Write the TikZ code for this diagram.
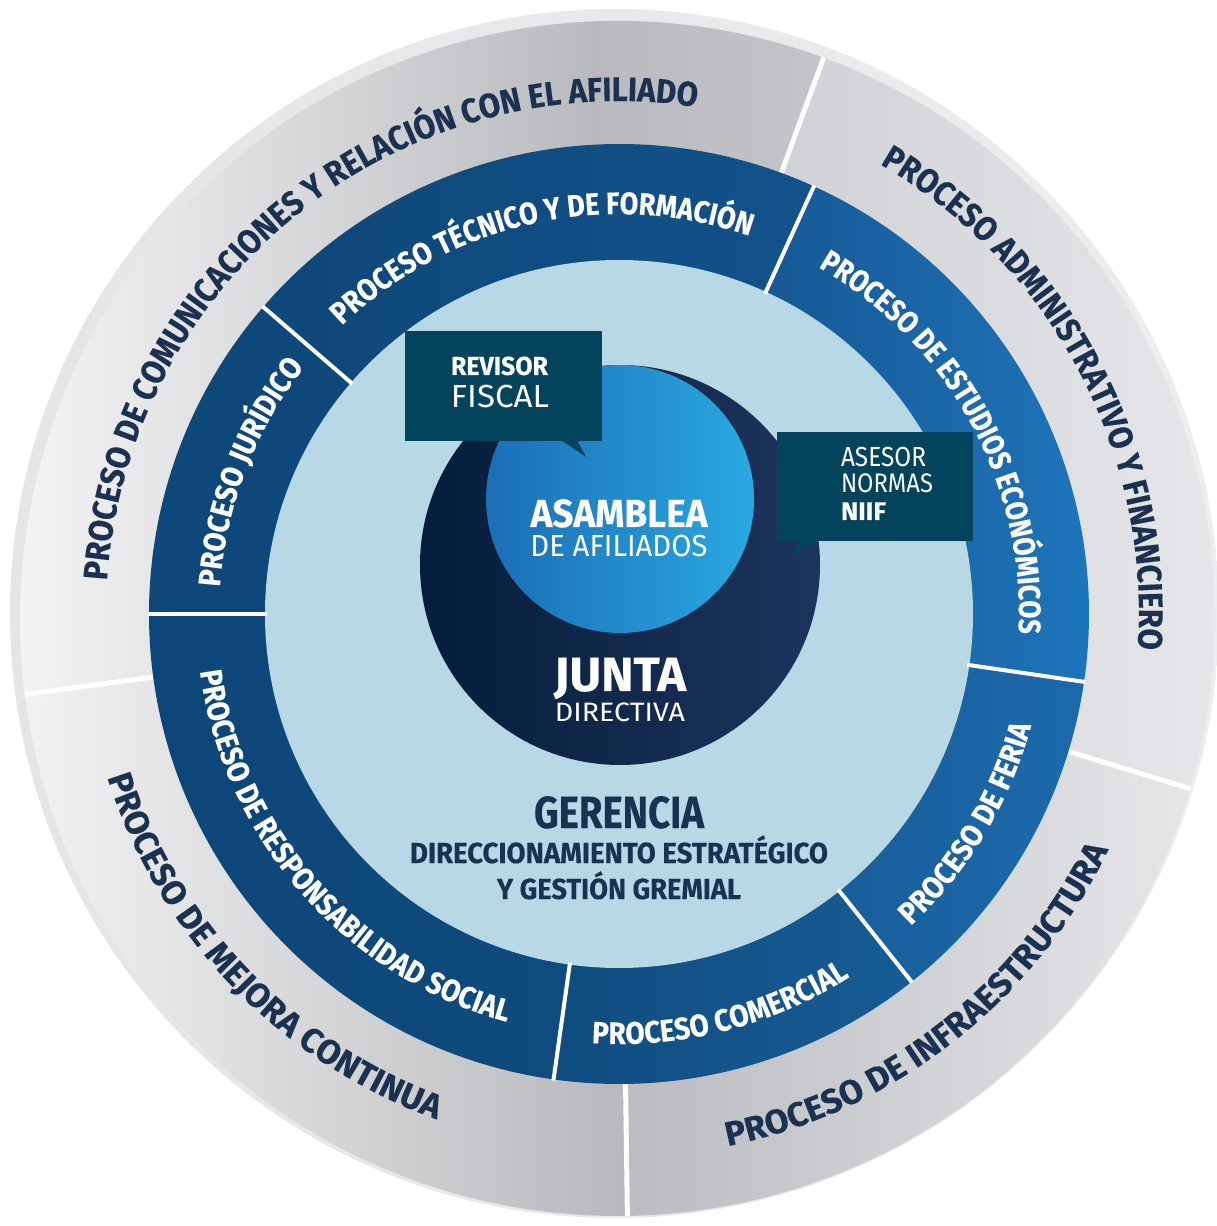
\documentclass[tikz,border=0pt]{standalone}
\usepackage{fontspec}
\usepackage{graphicx}
\usetikzlibrary{decorations.text}
\newfontfamily\cf{Fira Sans}
\newfontfamily\cfb{Fira Sans}[FakeBold=0.3]
\newlength\mylen
\newcommand\mkstretch[4]{%
  \settowidth\mylen{\fontsize{#2}{#2}\cf\bfseries #4}%
  \edef\tmpst{\fpeval{round(#3/\mylen,4)}}%
  \edef\tmpx{\noexpand\newfontfamily\expandafter\noexpand\csname #1\endcsname{Fira Sans}[FakeStretch=\tmpst,FakeBold=0.3]}%
  \tmpx}
\mkstretch{fComm}{34}{847}{PROCESO DE COMUNICACIONES Y RELACIÓN CON EL AFILIADO}
\mkstretch{fAdm}{34}{575}{PROCESO ADMINISTRATIVO Y FINANCIERO}
\mkstretch{fInf}{34}{497}{PROCESO DE INFRAESTRUCTURA}
\mkstretch{fMej}{34}{489}{PROCESO DE MEJORA CONTINUA}
\mkstretch{fTec}{31}{437}{PROCESO TÉCNICO Y DE FORMACIÓN}
\mkstretch{fJur}{31}{238}{PROCESO JURÍDICO}
\mkstretch{fRes}{31}{492}{PROCESO DE RESPONSABILIDAD SOCIAL}
\mkstretch{fCom}{31}{269}{PROCESO COMERCIAL}
\mkstretch{fFer}{31}{236}{PROCESO DE FERIA}
\mkstretch{fEst}{31}{436}{PROCESO DE ESTUDIOS ECONÓMICOS}

\definecolor{navytext}{HTML}{1B3152}
\definecolor{lightb}{HTML}{B8D8E5}
\definecolor{teal1}{HTML}{03445C}
\definecolor{navL}{HTML}{051D3A}
\definecolor{navR}{HTML}{1E345D}
\definecolor{asL}{HTML}{1C6DB4}
\definecolor{asM}{HTML}{1F7CC3}
\definecolor{asR}{HTML}{29A9E1}
\definecolor{rimL}{HTML}{E4E5E7}
\definecolor{rimM}{HTML}{C6C7CA}
\definecolor{rimR}{HTML}{EDEDEE}
\definecolor{comL}{HTML}{F4F4F5}
\definecolor{comA}{HTML}{D4D5D7}
\definecolor{comD}{HTML}{B9BABD}
\definecolor{comR}{HTML}{C4C5C8}
\definecolor{admL}{HTML}{D0D1D4}
\definecolor{admR}{HTML}{E9EAEC}
\definecolor{infL}{HTML}{BBBCBF}
\definecolor{infR}{HTML}{E5E6E8}
\definecolor{mejL}{HTML}{F2F2F3}
\definecolor{mejR}{HTML}{B8B9BC}
\pgfdeclarehorizontalshading{commsh}{100bp}{color(0bp)=(comL); color(25bp)=(comL); color(45bp)=(comA); color(61bp)=(comD); color(75bp)=(comR); color(100bp)=(comR)}

\tikzset{
  divider/.style={white, line width=#1},
  flat/.style={anchor=base, inner sep=0pt, outer sep=0pt},
  callout/.style={fill=teal1},
}
\newcommand\wtxt[3]{\resizebox{#1pt}{\height}{\fontsize{#2}{#2}\selectfont #3}}
% annular sector of the blue ring: start, end, left colour, right colour (HTML)
\newcommand\bseg[4]{\definecolor{bsL}{HTML}{#3}\definecolor{bsR}{HTML}{#4}%
  \shade[left color=bsL, right color=bsR]
  (#1:470) arc[start angle=#1,end angle=#2,radius=470] -- (#2:353) arc[start angle=#2,end angle=#1,radius=353] -- cycle;}

\begin{document}
\begin{tikzpicture}[x=1pt,y=1pt]
\fill[white] (-619,-612) rectangle (598,614);
\useasboundingbox (-619,-612) rectangle (598,614);

% outer rim
\shade[left color=rimL, middle color=rimM, right color=rimR] (-4.5,0.5) circle[radius=604.5];

% grey segments
\begin{scope}[shift={(-1.5,-4.5)}]
 \shade[shading=commsh]
   (69.8:597.5) arc[start angle=69.8,end angle=187.7,radius=597.5] -- (187.7:455) arc[start angle=187.7,end angle=69.8,radius=455] -- cycle;
 \shade[left color=mejL, right color=mejR]
   (187.7:597.5) arc[start angle=187.7,end angle=270.8,radius=597.5] -- (270.8:455) arc[start angle=270.8,end angle=187.7,radius=455] -- cycle;
 \shade[left color=infL, right color=infR]
   (-89.2:597.5) arc[start angle=-89.2,end angle=-17,radius=597.5] -- (-17:455) arc[start angle=-17,end angle=-89.2,radius=455] -- cycle;
 \shade[left color=admL, right color=admR]
   (-17:597.5) arc[start angle=-17,end angle=69.8,radius=597.5] -- (69.8:455) arc[start angle=69.8,end angle=-17,radius=455] -- cycle;
\end{scope}
\begin{scope}
 \clip (-1.5,-4.5) circle[radius=597.5];
 \foreach \a in {69.8,187.7,-89.2,-17} \draw[divider=5] (\a:468) -- (\a:612);
\end{scope}

% blue ring, one sector per process
\bseg{65.5}{139.2}{0E4779}{12528A}
\bseg{139.2}{180}{0E4779}{0E4779}
\bseg{180}{262}{0D4678}{0F4B7E}
\bseg{262}{308.5}{0F4C7F}{175C95}
\bseg{308.5}{351.7}{185E9A}{1C6AAB}
\bseg{-8.3}{65.5}{165893}{1F77BE}
\fill[lightb] (0,0) circle[radius=354];
\foreach \a in {139.2,180,-98,-51.5,-8.3,65.5} \draw[divider=4] (\a:352) -- (\a:471);

% central circles
\shade[left color=navL, right color=navR] (1,49) circle[radius=200];
\shade[left color=asL, middle color=asM, right color=asR] (1,115) circle[radius=134];

% callouts
\fill[callout] (-214,283) rectangle (-17,173);
\fill[callout] (-58,174) -- (-42,174) -- (-33,157) -- cycle;
\fill[callout] (158,182) rectangle (354,73);
\fill[callout] (181,74) -- (199,74) -- (173,56) -- cycle;

% callout texts
\node[flat, anchor=base west, text=white] (rev) at (-168,239) {\wtxt{97}{26.1}{\cfb\bfseries REVISOR}};
\node[flat, anchor=base west, text=white] (fis) at (-168,206) {\wtxt{98}{31.9}{\cf FISCAL}};
\node[flat, anchor=base west, text=white] (ase) at (222,147) {\wtxt{85}{27.6}{\cf ASESOR}};
\node[flat, anchor=base west, text=white] (nor) at (222,121) {\wtxt{92}{26.8}{\cf NORMAS}};
\node[flat, anchor=base west, text=white] (nii) at (222,94) {\wtxt{45}{25.4}{\cfb\bfseries NIIF}};

% center texts
\node[flat, text=white] (asa) at (0,87) {\wtxt{177}{39.2}{\cfb\bfseries ASAMBLEA}};
\node[flat, text=white] (afi) at (0,57) {\wtxt{177}{30.5}{\cf DE AFILIADOS}};
\node[flat, text=white] (jun) at (1,-77) {\wtxt{132}{47.9}{\cfb\bfseries JUNTA}};
\node[flat, text=white] (dir) at (1,-107) {\wtxt{130}{26.6}{\cf DIRECTIVA}};
\node[flat, text=navytext] (ger) at (0,-214) {\wtxt{170}{45}{\cfb\bfseries GERENCIA}};
\node[flat, text=navytext] (dcc) at (0,-249) {\wtxt{418}{29}{\cfb\bfseries DIRECCIONAMIENTO ESTRATÉGICO}};
\node[flat, text=navytext] (gre) at (0,-285) {\wtxt{244}{29}{\cfb\bfseries Y GESTIÓN GREMIAL}};

% outer ring curved texts
\path[decorate, decoration={text along path, text align=center, text color=navytext,
  text={|\fontsize{34}{34}\fComm\bfseries|PROCESO DE COMUNICACIONES Y RELACIÓN CON EL AFILIADO}}]
  (198.8:513) arc[start angle=198.8, end angle=58.8, radius=513];
\path[decorate, decoration={text along path, text align=center, text color=navytext,
  text={|\fontsize{34}{34}\fAdm\bfseries|PROCESO ADMINISTRATIVO Y FINANCIERO}}]
  (78:520) arc[start angle=78, end angle=-22, radius=520];
\path[decorate, decoration={text along path, text align=center, text color=navytext,
  text={|\fontsize{34}{34}\fInf\bfseries|PROCESO DE INFRAESTRUCTURA}}]
  (-97.1:543) arc[start angle=-97.1, end angle=-7.1, radius=543];
\path[decorate, decoration={text along path, text align=center, text color=navytext,
  text={|\fontsize{34}{34}\fMej\bfseries|PROCESO DE MEJORA CONTINUA}}]
  (178.9:537) arc[start angle=178.9, end angle=268.9, radius=537];

% blue ring curved texts
\path[decorate, decoration={text along path, text align=center, text color=white,
  text={|\fontsize{31}{31}\fTec\bfseries|PROCESO TÉCNICO Y DE FORMACIÓN}}]
  (152.4:400) arc[start angle=152.4, end angle=52.4, radius=400];
\path[decorate, decoration={text along path, text align=center, text color=white,
  text={|\fontsize{31}{31}\fJur\bfseries|PROCESO JURÍDICO}}]
  (194:400) arc[start angle=194, end angle=124, radius=400];
\path[decorate, decoration={text along path, text align=center, text color=white,
  text={|\fontsize{31}{31}\fRes\bfseries|PROCESO DE RESPONSABILIDAD SOCIAL}}]
  (171.2:423) arc[start angle=171.2, end angle=271.2, radius=423];
\path[decorate, decoration={text along path, text align=center, text color=white,
  text={|\fontsize{31}{31}\fCom\bfseries|PROCESO COMERCIAL}}]
  (-110.6:430) arc[start angle=-110.6, end angle=-40.6, radius=430];
\path[decorate, decoration={text along path, text align=center, text color=white,
  text={|\fontsize{31}{31}\fFer\bfseries|PROCESO DE FERIA}}]
  (-66.05:427) arc[start angle=-66.05, end angle=3.95, radius=427];
\path[decorate, decoration={text along path, text align=center, text color=white,
  text={|\fontsize{31}{31}\fEst\bfseries|PROCESO DE ESTUDIOS ECONÓMICOS}}]
  (78.65:400) arc[start angle=78.65, end angle=-21.35, radius=400];
\end{tikzpicture}
\end{document}
